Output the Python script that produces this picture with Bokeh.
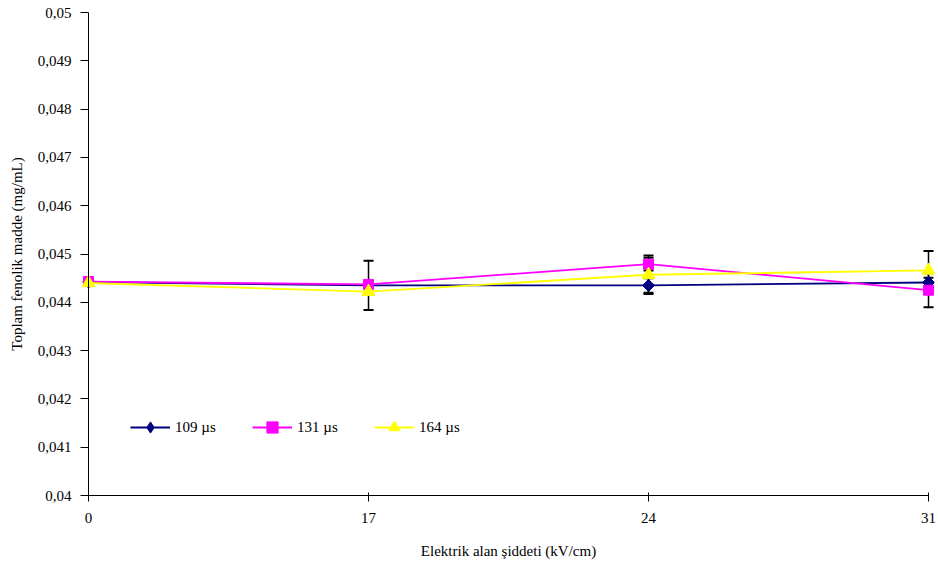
from bokeh.plotting import figure
from bokeh.models import (Range1d, FixedTicker, CustomJSTickFormatter, Legend, LegendItem,
                          Whisker, TeeHead, ColumnDataSource, Span)
from bokeh.embed import file_html
from bokeh.resources import INLINE

# ---- data ----
categories = ["0", "17", "24", "31"]
x_idx = [0, 1, 2, 3]
s109 = [0.04442, 0.04435, 0.04435, 0.04441]
s131 = [0.04443, 0.04437, 0.04479, 0.04425]
s164 = [0.04440, 0.04422, 0.04457, 0.04466]
err109 = [0.0, 0.00051, 0.00015, 0.0001]
err131 = [0.0, 0.0, 0.00013, 0.00035]
err164 = [0.0, 0.0, 0.0004, 0.0004]
series_names = ["109 µs", "131 µs", "164 µs"]
y_ticks = [0.040, 0.041, 0.042, 0.043, 0.044, 0.045, 0.046, 0.047, 0.048, 0.049, 0.050]
y_tick_labels = ["0,04", "0,041", "0,042", "0,043", "0,044", "0,045", "0,046", "0,047", "0,048", "0,049", "0,05"]

FONT = "Liberation Serif"
FS = "15px"

PAD = 6.0 / 280.0  # a few pixels of room so edge markers are not clipped

p = figure(width=938, height=570, output_backend="svg", toolbar_location=None,
           x_range=Range1d(-PAD, 3 + PAD), y_range=Range1d(0.04, 0.05),
           min_border_left=82, min_border_right=4, min_border_top=12, min_border_bottom=75)
p.outline_line_color = None
p.xgrid.visible = False
p.ygrid.visible = False
p.background_fill_color = "white"
p.border_fill_color = "white"

# axes
p.yaxis.ticker = FixedTicker(ticks=y_ticks)
p.yaxis.formatter = CustomJSTickFormatter(args=dict(yt=y_ticks, labs=y_tick_labels), code="""
let i = 0, b = 1e9;
for (let k = 0; k < yt.length; k++) { const d = Math.abs(yt[k] - tick); if (d < b) { b = d; i = k; } }
return labs[i];
""")
p.xaxis.ticker = FixedTicker(ticks=x_idx)
p.xaxis.formatter = CustomJSTickFormatter(args=dict(cats=categories), code="return cats[Math.round(tick)];")
p.xaxis.bounds = (0, 3)

for ax in (p.xaxis[0], p.yaxis[0]):
    ax.axis_line_color = "black"
    ax.axis_line_width = 1
    ax.major_tick_line_color = "black"
    ax.minor_tick_line_color = None
    ax.major_label_text_font = FONT
    ax.major_label_text_font_size = FS
    ax.major_label_text_color = "black"
    ax.axis_label_text_font = FONT
    ax.axis_label_text_font_size = FS
    ax.axis_label_text_font_style = "normal"
    ax.axis_label_text_color = "black"

# y axis line drawn at x = 0 instead of at the frame edge
p.yaxis.axis_line_color = None
p.yaxis.major_tick_in = 6
p.yaxis.major_tick_out = 2
p.yaxis.major_label_standoff = 9
p.yaxis.axis_label = "Toplam fenolik madde (mg/mL)"
p.yaxis.axis_label_standoff = 10
p.add_layout(Span(location=0, dimension="height", line_color="black", line_width=1))

p.xaxis.major_tick_in = 3
p.xaxis.major_tick_out = 6
p.xaxis.major_label_standoff = 11
p.xaxis.axis_label = "Elektrik alan şiddeti (kV/cm)"
p.xaxis.axis_label_standoff = 17

colors = ["#000080", "#FF00FF", "#FFFF00"]
legend_markers = ["diamond", "square", "triangle"]
markers = ["square", "square", "triangle"]
angles = [0.7854, 0.0, 0.0]
sizes = [8.5, 10, 13]
values = [s109, s131, s164]
errors = [err109, err131, err164]

items = []
for name, c, m, lm, a, sz, v, e in zip(series_names, colors, markers, legend_markers, angles, sizes, values, errors):
    lr = p.line(x_idx, v, line_color=c, line_width=1.8)
    xs = [x for x, ee in zip(x_idx, e) if ee > 0]
    up = [vv + ee for vv, ee in zip(v, e) if ee > 0]
    lo = [vv - ee for vv, ee in zip(v, e) if ee > 0]
    src = ColumnDataSource(dict(x=xs, upper=up, lower=lo))
    w = Whisker(source=src, base="x", upper="upper", lower="lower", dimension="height",
                line_color="black", line_width=1.5,
                upper_head=TeeHead(size=10, line_color="black", line_width=2),
                lower_head=TeeHead(size=10, line_color="black", line_width=2))
    p.add_layout(w)
    if lm != m:
        leg_r = p.scatter(x_idx, v, marker=lm, size=sz + 3, fill_color=c, line_color=c)
    mr = p.scatter(x_idx, v, marker=m, angle=a, size=sz, fill_color=c, line_color=c)
    if lm == m:
        leg_r = mr
    items.append(LegendItem(label=name, renderers=[lr, leg_r]))

legend = Legend(items=items, orientation="horizontal", location=(48, 54),
                padding=0, margin=0, spacing=27, label_standoff=5,
                glyph_width=40, glyph_height=28, label_height=16, label_width=50,
                background_fill_alpha=0, border_line_color=None,
                label_text_font=FONT, label_text_font_size=FS, label_text_color="black")
p.add_layout(legend)

open("out.html", "w").write(file_html(p, INLINE))
